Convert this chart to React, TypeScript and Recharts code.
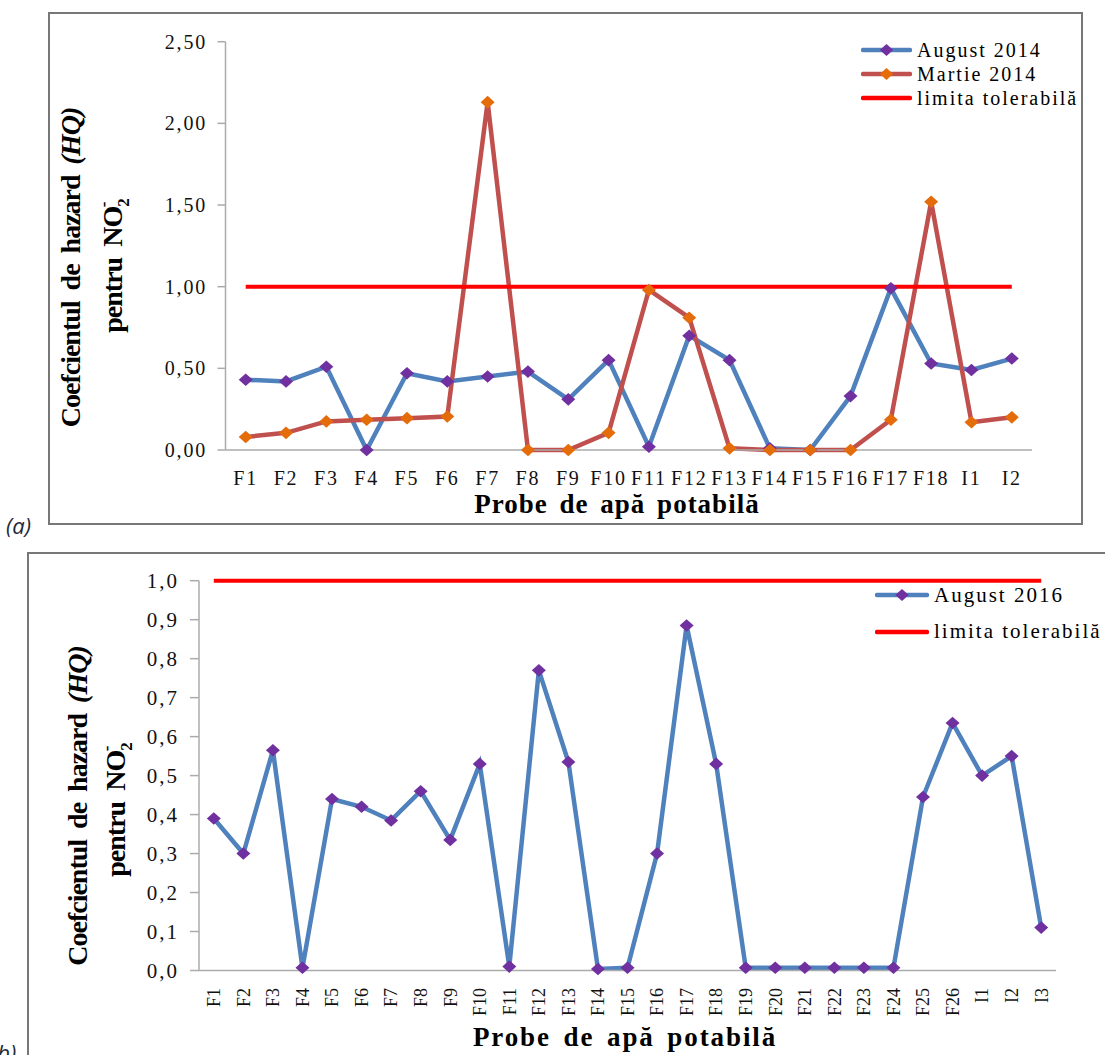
import React from "react";
import { Legend, Line, LineChart, XAxis, YAxis } from "recharts";

// Hazard quotient (HQ) for NO2- in drinking-water samples.
// (a) August 2014 vs Martie 2014, (b) August 2016; both against the 1.0 limit.

const categoriesA = [
  "F1", "F2", "F3", "F4", "F5", "F6", "F7", "F8", "F9", "F10",
  "F11", "F12", "F13", "F14", "F15", "F16", "F17", "F18", "I1", "I2",
];
const august2014 = [
  0.43, 0.42, 0.51, 0, 0.47, 0.42, 0.45, 0.48, 0.31, 0.55,
  0.02, 0.7, 0.55, 0.01, 0, 0.33, 0.99, 0.53, 0.49, 0.56,
];
const martie2014 = [
  0.08, 0.105, 0.175, 0.185, 0.195, 0.205, 2.13, 0, 0, 0.105,
  0.98, 0.81, 0.01, 0, 0, 0, 0.185, 1.52, 0.17, 0.2,
];
const ticksA = [0, 0.5, 1, 1.5, 2, 2.5];

const categoriesB = [
  "F1", "F2", "F3", "F4", "F5", "F6", "F7", "F8", "F9", "F10",
  "F11", "F12", "F13", "F14", "F15", "F16", "F17", "F18", "F19", "F20",
  "F21", "F22", "F23", "F24", "F25", "F26", "I1", "I2", "I3",
];
const august2016 = [
  0.39, 0.3, 0.565, 0.007, 0.44, 0.42, 0.385, 0.46, 0.335, 0.53,
  0.01, 0.77, 0.535, 0.004, 0.007, 0.3, 0.885, 0.53, 0.007, 0.007,
  0.007, 0.007, 0.007, 0.007, 0.445, 0.635, 0.5, 0.55, 0.11,
];
const ticksB = [0, 0.1, 0.2, 0.3, 0.4, 0.5, 0.6, 0.7, 0.8, 0.9, 1];

// tolerable limit, HQ = 1
const LIMIT = 1;

const dataA = categoriesA.map((name, i) => ({
  name,
  aug: august2014[i],
  mar: martie2014[i],
  limit: LIMIT,
}));
const dataB = categoriesB.map((name, i) => ({
  name,
  aug: august2016[i],
  limit: LIMIT,
}));

const BLUE = "#4F81BD";
const PURPLE = "#7030A0";
const RED_LINE = "#C0504D";
const ORANGE = "#E46C0A";
const LIMIT_RED = "#FF0000";
const AXIS = "#ababab";
const SERIF = "'Liberation Serif', 'Times New Roman', serif";

const fmt2 = (v: number) => v.toFixed(2).replace(".", ",");
const fmt1 = (v: number) => v.toFixed(1).replace(".", ",");

const diamond = (fill: string) => (p: any) => {
  const { cx, cy, index } = p;
  if (cx == null || cy == null) return <g key={`n-${index}`} />;
  return (
    <path
      key={`d-${index}`}
      d={`M${cx},${cy - 6.3} L${cx + 7},${cy} L${cx},${cy + 6.3} L${cx - 7},${cy} Z`}
      fill={fill}
    />
  );
};

type LegendItem = { label: string; color: string; marker?: string };

const LegendBox = ({
  items,
  rowH,
  lineW,
  fontSize,
}: {
  items: LegendItem[];
  rowH: number;
  lineW: number;
  fontSize: number;
}) => (
  <div style={{ fontFamily: SERIF, fontSize, letterSpacing: 2, color: "#000" }}>
    {items.map(it => (
      <div
        key={it.label}
        style={{ display: "flex", alignItems: "center", height: rowH, whiteSpace: "nowrap" }}
      >
        <svg width={lineW} height={14} style={{ marginRight: 5 }}>
          <line
            x1={2}
            y1={7}
            x2={lineW - 2}
            y2={7}
            stroke={it.color}
            strokeWidth={4.5}
            strokeLinecap="round"
          />
          {it.marker && (
            <path
              d={`M${lineW / 2},1 L${lineW / 2 + 6.7},7 L${lineW / 2},13 L${lineW / 2 - 6.7},7 Z`}
              fill={it.marker}
            />
          )}
        </svg>
        <span>{it.label}</span>
      </div>
    ))}
  </div>
);

const YTitle = ({ x1, x2, cy1, cy2 }: { x1: number; x2: number; cy1: number; cy2: number }) => (
  <g fontFamily={SERIF} fontWeight="bold" fontSize={28} fill="#000" style={{ letterSpacing: -1, wordSpacing: 5 }}>
    <text transform={`translate(${x1},${cy1}) rotate(-90)`} textAnchor="middle">
      Coefcientul de hazard <tspan fontStyle="italic">(HQ)</tspan>
    </text>
    <text transform={`translate(${x2},${cy2}) rotate(-90)`} textAnchor="middle">
      pentru NO
      <tspan fontSize={17} dy={7}>2</tspan>
      <tspan fontSize={17} dx={-8} dy={-20}>-</tspan>
    </text>
  </g>
);

const XTitle = ({ cx, y, spacing }: { cx: number; y: number; spacing: number }) => (
  <text
    x={cx}
    y={y}
    textAnchor="middle"
    fontFamily={SERIF}
    fontWeight="bold"
    fontSize={27}
    fill="#000"
    style={{ letterSpacing: spacing, wordSpacing: 4 }}
  >
    Probe de apă potabilă
  </text>
);

const RotatedTick = (p: any) => {
  const { x, y, payload } = p;
  return (
    <text
      transform={`translate(${x},${y}) rotate(-90)`}
      textAnchor="end"
      dy="0.35em"
      fontFamily={SERIF}
      fontSize={18}
      fill="#111"
    >
      {payload.value}
    </text>
  );
};

const tickFont = { fontFamily: SERIF, fontSize: 20, fill: "#111", letterSpacing: 1.8 };

const ChartA = () => (
  <LineChart
    width={1105}
    height={540}
    data={dataA}
    margin={{ top: 41.7, right: 73, bottom: 50, left: 165 }}
  >
    <XAxis
      dataKey="name"
      stroke={AXIS}
      strokeWidth={1.5}
      tickLine={false}
      tickSize={8}
      tickMargin={12.7}
      height={40}
      interval={0}
      padding={{ left: 20.2, right: 20.2 }}
      tick={tickFont}
      label={() => <XTitle cx={617} y={513} spacing={1} />}
    />
    <YAxis
      domain={[0, 2.5]}
      ticks={ticksA}
      tickFormatter={fmt2}
      width={60.5}
      stroke={AXIS}
      strokeWidth={1.5}
      tickSize={8}
      tickMargin={10.5}
      tick={tickFont}
      label={() => <YTitle x1={80} x2={122} cy1={267.5} cy2={266} />}
    />
    <Legend
      layout="vertical"
      align="center"
      verticalAlign="middle"
      wrapperStyle={{ left: 861, top: 38, width: 240 }}
      content={() => (
        <LegendBox
          rowH={24.2}
          lineW={51}
          fontSize={20}
          items={[
            { label: "August 2014", color: BLUE, marker: PURPLE },
            { label: "Martie 2014", color: RED_LINE, marker: ORANGE },
            { label: "limita tolerabilă", color: LIMIT_RED },
          ]}
        />
      )}
    />
    <Line
      dataKey="aug"
      stroke={BLUE}
      strokeWidth={4.5}
      dot={diamond(PURPLE)}
      activeDot={false}
      isAnimationActive={false}
    />
    <Line
      dataKey="mar"
      stroke={RED_LINE}
      strokeWidth={4.5}
      dot={diamond(ORANGE)}
      activeDot={false}
      isAnimationActive={false}
    />
    <Line
      dataKey="limit"
      stroke={LIMIT_RED}
      strokeWidth={4}
      dot={false}
      activeDot={false}
      isAnimationActive={false}
    />
  </LineChart>
);

const ChartB = () => (
  <LineChart
    width={1105}
    height={515}
    data={dataB}
    margin={{ top: 40.7, right: 49, bottom: 44.5, left: 139 }}
  >
    <XAxis
      dataKey="name"
      stroke={AXIS}
      strokeWidth={1.5}
      tickLine={false}
      tickSize={8}
      tickMargin={9.5}
      height={40}
      interval={0}
      padding={{ left: 14.8, right: 14.8 }}
      tick={<RotatedTick />}
      label={() => <XTitle cx={625} y={506} spacing={1.9} />}
    />
    <YAxis
      domain={[0, 1]}
      ticks={ticksB}
      tickFormatter={fmt1}
      width={60}
      stroke={AXIS}
      strokeWidth={1.5}
      tickSize={9}
      tickMargin={11}
      tick={{ ...tickFont, fontSize: 21, letterSpacing: 2 }}
      label={() => <YTitle x1={87} x2={125} cy1={266} cy2={270} />}
    />
    <Legend
      layout="vertical"
      align="center"
      verticalAlign="middle"
      wrapperStyle={{ left: 875, top: 37, width: 260 }}
      content={() => (
        <LegendBox
          rowH={36.6}
          lineW={54}
          fontSize={21}
          items={[
            { label: "August 2016", color: BLUE, marker: PURPLE },
            { label: "limita tolerabilă", color: LIMIT_RED },
          ]}
        />
      )}
    />
    <Line
      dataKey="aug"
      stroke={BLUE}
      strokeWidth={4.5}
      dot={diamond(PURPLE)}
      activeDot={false}
      isAnimationActive={false}
    />
    <Line
      dataKey="limit"
      stroke={LIMIT_RED}
      strokeWidth={4}
      dot={false}
      activeDot={false}
      isAnimationActive={false}
    />
  </LineChart>
);

export default function App() {
  return (
    <div
      style={{
        position: "absolute",
        left: 0,
        top: 0,
        width: 1105,
        height: 1055,
        overflow: "hidden",
        background: "#fff",
        fontFamily: SERIF,
      }}
    >
      <div
        style={{
          position: "absolute",
          left: 48,
          top: 12,
          width: 1035,
          height: 513,
          border: "2px solid #777",
          boxSizing: "border-box",
        }}
      />
      <div
        style={{
          position: "absolute",
          left: 27,
          top: 552,
          width: 1200,
          height: 600,
          border: "2px solid #777",
          boxSizing: "border-box",
        }}
      />
      <div
        style={{
          position: "absolute",
          left: 6,
          top: 510,
          fontFamily: "'Open Sans', sans-serif",
          fontStyle: "italic",
          fontSize: 22,
          color: "#1c2a3a",
        }}
      >
        (a)
      </div>
      <div
        style={{
          position: "absolute",
          left: -9,
          top: 1037,
          fontFamily: "'Open Sans', sans-serif",
          fontStyle: "italic",
          fontSize: 22,
          color: "#1c2a3a",
        }}
      >
        (b)
      </div>
      <div style={{ position: "absolute", left: 0, top: 0 }}>
        <ChartA />
      </div>
      <div style={{ position: "absolute", left: 0, top: 540 }}>
        <ChartB />
      </div>
    </div>
  );
}
